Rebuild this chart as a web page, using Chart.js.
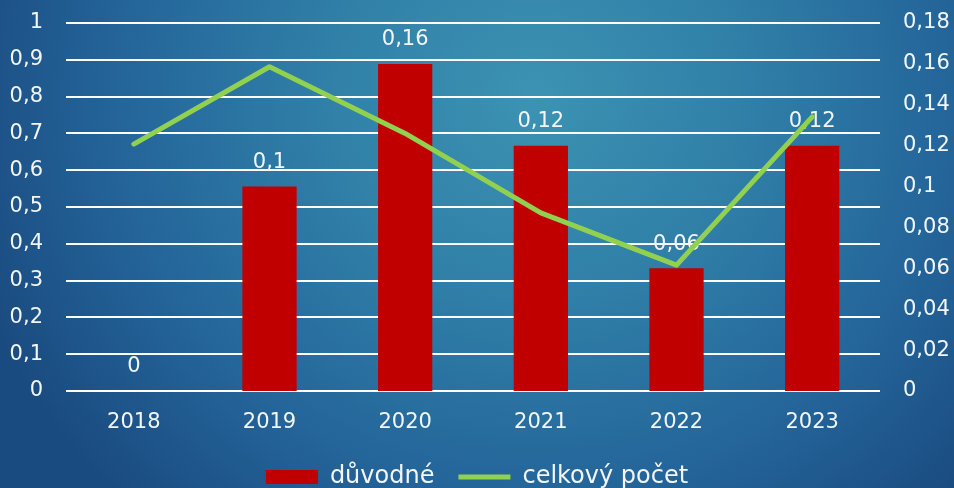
<!DOCTYPE html>
<html>
<head>
<meta charset="utf-8">
<script src="https://cdn.jsdelivr.net/npm/chart.js@4"></script>
<style>
  html, body { margin: 0; padding: 0; }
  body {
    width: 954px; height: 488px; overflow: hidden;
    background: radial-gradient(ellipse 62% 115% at 56% 20%, #3c93b2 0%, #2f7ea7 38%, #24659a 70%, #1a4b80 100%);
  }
  #wrap { position: relative; width: 954px; height: 499px; }
</style>
</head>
<body>
<div id="wrap"><canvas id="chart"></canvas></div>
<script>
// data
var years = ['2018', '2019', '2020', '2021', '2022', '2023'];
var duvodne = [0, 0.1, 0.16, 0.12, 0.06, 0.12];
var celkovyPocet = [0.671, 0.881, 0.70, 0.484, 0.342, 0.745];

var TEXT = '#f2f6f9';
var FONT = '"DejaVu Sans", sans-serif';

function fmt(v) {
    return String(Math.round(v * 100) / 100).replace('.', ',');
}

// value labels above the bars, drawn before the datasets so the line sits on top
var barLabels = {
    id: 'barLabels',
    beforeDatasetsDraw: function(chart) {
        var ctx = chart.ctx;
        var meta = chart.getDatasetMeta(0);
        ctx.save();
        ctx.fillStyle = TEXT;
        ctx.font = '21px ' + FONT;
        ctx.textAlign = 'center';
        ctx.textBaseline = 'middle';
        meta.data.forEach(function(bar, i) {
            ctx.fillText(fmt(duvodne[i]), bar.x, bar.y - 24);
        });
        ctx.restore();
    }
};

function fitY(width) {
    return function(scale) {
        scale.width = width;
        scale.paddingTop = 0;
        scale.paddingBottom = 0;
    };
}

new Chart(document.getElementById('chart'), {
    type: 'bar',
    data: {
        labels: years,
        datasets: [{
            type: 'bar',
            label: 'důvodné',
            data: duvodne,
            yAxisID: 'y1',
            backgroundColor: '#c00000',
            borderWidth: 0,
            barPercentage: 0.4,
            categoryPercentage: 1,
            pointStyle: 'rect',
            order: 1
        }, {
            type: 'line',
            label: 'celkový počet',
            data: celkovyPocet,
            yAxisID: 'y',
            borderColor: '#92d050',
            backgroundColor: '#92d050',
            borderWidth: 5,
            borderCapStyle: 'round',
            borderJoinStyle: 'round',
            pointRadius: 0,
            pointStyle: 'line',
            tension: 0,
            order: 0
        }]
    },
    options: {
        responsive: true,
        maintainAspectRatio: false,
        animation: false,
        layout: { padding: { top: 23, left: 0, right: 0, bottom: 0 } },
        plugins: {
            tooltip: { enabled: false },
            legend: {
                position: 'bottom',
                labels: {
                    color: TEXT,
                    font: { family: FONT, size: 24 },
                    usePointStyle: true,
                    pointStyleWidth: 52,
                    boxHeight: 14,
                    padding: 24,
                    sort: function(a, b) { return a.datasetIndex - b.datasetIndex; }
                }
            }
        },
        scales: {
            x: {
                grid: { display: false },
                border: { display: false },
                ticks: { color: TEXT, font: { family: FONT, size: 21 }, padding: 11, maxRotation: 0 },
                afterFit: function(scale) { scale.height = 50; }
            },
            y: {
                position: 'left',
                min: 0, max: 1,
                ticks: { stepSize: 0.1, color: TEXT, font: { family: FONT, size: 21 }, padding: 23,
                    callback: function(v) { return fmt(v); } },
                grid: { color: '#ffffff', lineWidth: 2, drawTicks: false },
                border: { display: false },
                afterFit: fitY(66)
            },
            y1: {
                position: 'right',
                min: 0, max: 0.18,
                ticks: { stepSize: 0.02, color: TEXT, font: { family: FONT, size: 21 }, padding: 23,
                    callback: function(v) { return fmt(v); } },
                grid: { display: false, drawTicks: false },
                border: { display: false },
                afterFit: fitY(74)
            }
        }
    },
    plugins: [barLabels]
});
</script>
</body>
</html>
